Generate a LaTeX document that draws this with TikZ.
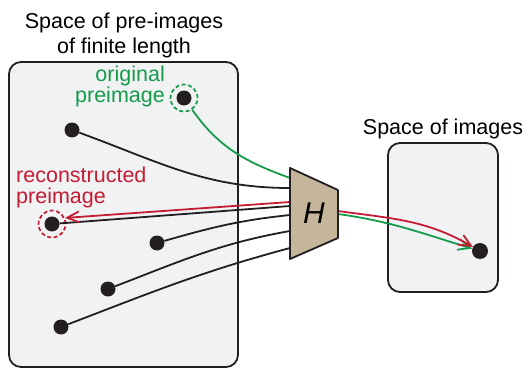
\documentclass[tikz,border=0pt]{standalone}
\usepackage{fontspec}
\setmainfont{Liberation Sans}
\usetikzlibrary{arrows.meta}
\definecolor{ink}{RGB}{35,31,32}
\definecolor{origgreen}{RGB}{22,155,75}
\definecolor{recred}{RGB}{196,28,50}
\definecolor{spacegray}{RGB}{241,242,244}
\definecolor{hashtan}{RGB}{197,181,155}

\begin{document}
\begin{tikzpicture}[x=1pt,y=1pt,
  every node/.style={font=\fontsize{21.5}{21}\selectfont,inner sep=0pt},
  point/.style={circle,fill=ink,minimum size=15pt},
  ring/.style={circle,draw,line width=1.7pt,dash pattern=on 4pt off 2.5pt,minimum size=27pt},
  wire/.style={draw=ink,line width=1.8pt},
  tip/.style={-{Straight Barb[length=12pt,width=11pt]}},
  space/.style={draw=ink,fill=spacegray,line width=1.8pt,rounded corners=12pt}]
\useasboundingbox (0,0) rectangle (523,368);

\path[space] (9,1) rectangle (238,306);
\path[space] (388,76) rectangle (498,225);

\node (pretitle) at (124,333) [align=center,font=\fontsize{21.5}{25}\selectfont] {Space of pre-images\\of finite length};
\node (imgtitle) at (443,234) [anchor=base] {Space of images};
\node (origlabel) at (165,282) [anchor=east,align=right,text=origgreen] {original\\preimage};
\node (reclabel) at (16,181) [anchor=west,align=left,text=recred] {reconstructed\\preimage};

\node (orig) at (184,270) [point] {};
\node (origring) at (184,270) [ring,draw=origgreen] {};
\node (pre1) at (72,238) [point] {};
\node (recon) at (52,144) [point] {};
\node (reconring) at (52,144) [ring,draw=recred] {};
\node (pre3) at (157,125) [point] {};
\node (pre4) at (108,79) [point] {};
\node (pre5) at (61,41) [point] {};
\node (image) at (480,117) [point,minimum size=16pt] {};

\coordinate (inG) at (290,190);
\coordinate (in1) at (290,180);
\coordinate (inR) at (290,166);
\coordinate (in2) at (290,162);
\coordinate (in3) at (290,153);
\coordinate (in4) at (290,137);
\coordinate (in5) at (290,120);
\coordinate (outR) at (338,157);
\coordinate (outG) at (338,154);

\draw[wire] (pre1) to[out=-20,in=180] (in1);
\draw[wire] (recon) -- (in2);
\draw[wire] (pre3) to[out=16,in=186] (in3);
\draw[wire] (pre4) to[out=21,in=190] (in4);
\draw[wire] (pre5) to[out=21,in=195] (in5);
\draw[wire,draw=origgreen] (origring) to[out=-55,in=160] (inG);
\draw[wire,draw=recred,tip] (inR) -- (reconring.25);
\draw[wire,draw=origgreen,tip] (outG) to[out=-8,in=163] (image);
\draw[wire,draw=recred,tip] (outR) to[out=-8,in=150] (image);

\draw[draw=ink,fill=hashtan,line width=1.8pt,line join=round] (290,200) -- (338,178) -- (338,130) -- (290,109) -- cycle;
\node (H) at (314,155) [font=\fontsize{30}{30}\selectfont\itshape] {H};
\end{tikzpicture}
\end{document}
